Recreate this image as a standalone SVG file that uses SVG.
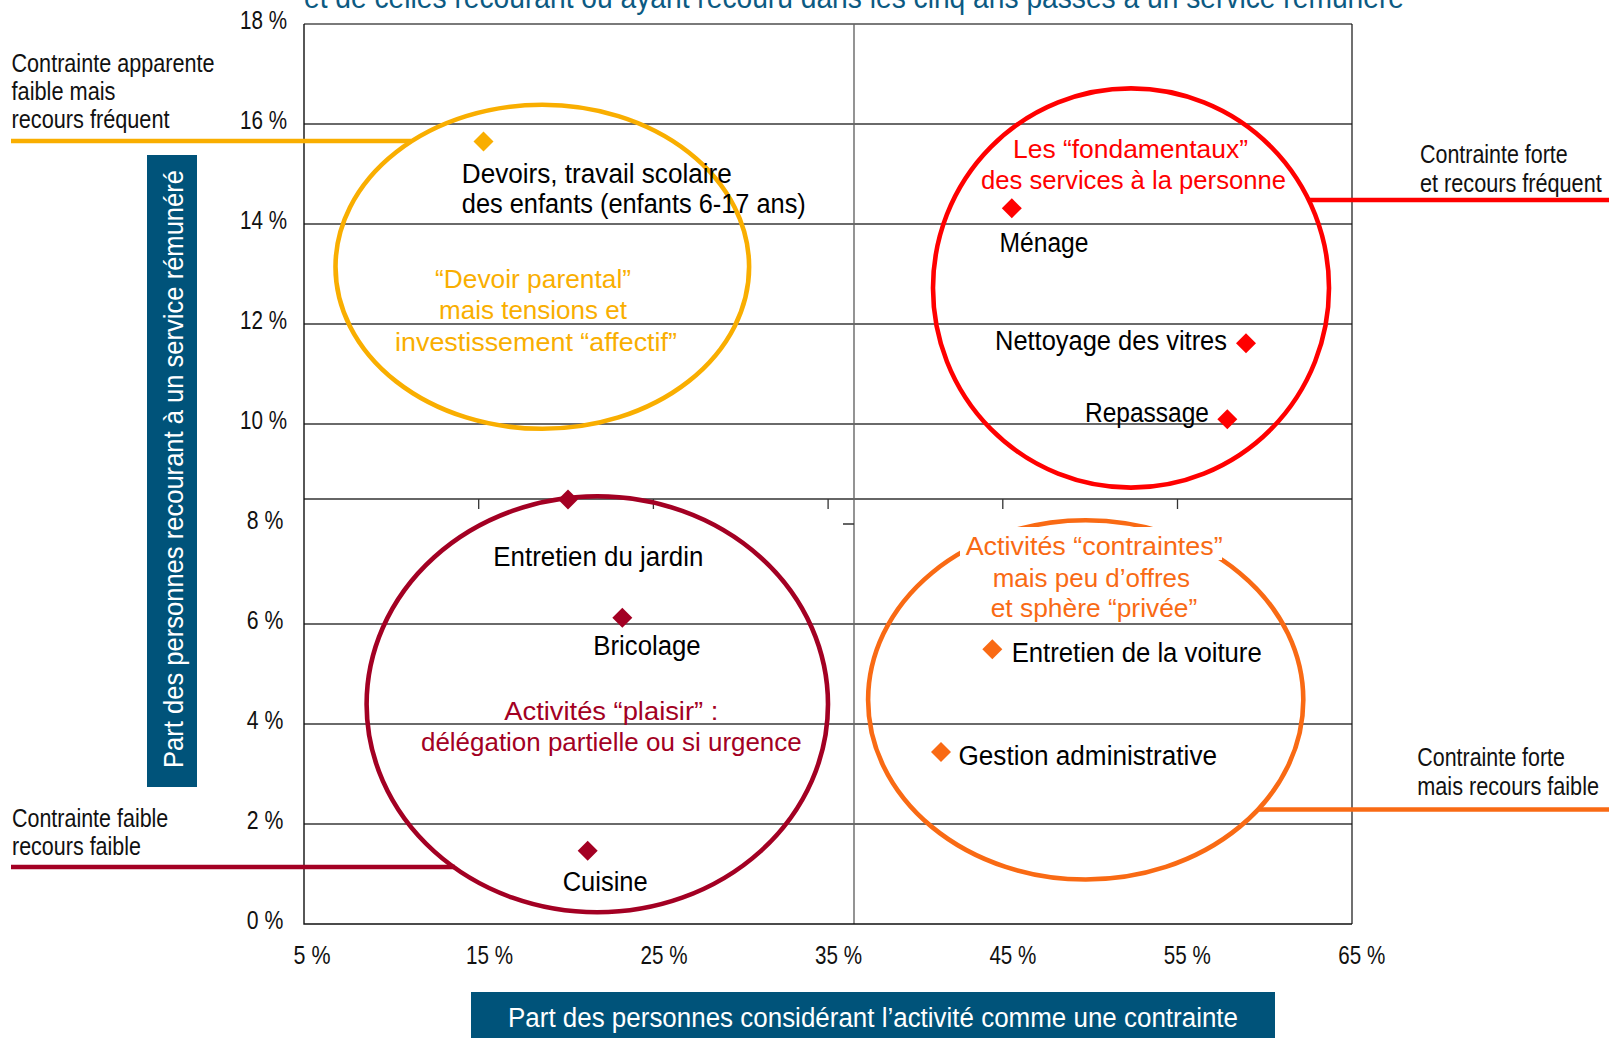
<svg xmlns="http://www.w3.org/2000/svg" width="1609" height="1038" viewBox="0 0 1609 1038">
<style>
text{font-family:"Liberation Sans",Arial,sans-serif;}
.tk{font-size:26px;fill:#111}
.sd{font-size:26px;fill:#111}
.lb{font-size:27px;fill:#000}
.cl{font-size:26px}
.grid{stroke:#3a3a3a;stroke-width:1.3;fill:none}
.ring{fill:none;stroke-width:4.6}
.lead{fill:none;stroke-width:4.6}
.yel{fill:#F9AE00}.yelS{stroke:#F9AE00}
.red{fill:#FF0000}.redS{stroke:#FF0000}
.crm{fill:#A30023}.crmS{stroke:#A30023}
.org{fill:#F96A14}.orgS{stroke:#F96A14}
.box{fill:#00537A}
.wt{fill:#fff}
</style>
<defs>
<path id="dia" d="M0,-10 L10,0 L0,10 L-10,0Z"/>
</defs>
<rect width="1609" height="1038" fill="#fff"/>

<!-- title (cut) -->
<text x="304" y="8" font-size="32" fill="#0C5A82" textLength="1100" lengthAdjust="spacingAndGlyphs">et de celles recourant ou ayant recouru dans les cinq ans passés à un service rémunéré</text>

<!-- grid and axes -->
<g id="grid">
<path class="grid" d="M304,124H1352M304,224H1352M304,324H1352M304,424H1352M304,624H1352M304,724H1352M304,824H1352"/>
<path d="M304,499H1352" stroke="#333" stroke-width="1.3"/>
<path d="M304,24H1352" stroke="#7a7a7a" stroke-width="2.2"/>
<path d="M854,24V924" stroke="#666" stroke-width="1.4"/>
<path d="M1352,24V924" stroke="#111" stroke-width="1.2"/>
<path d="M304,24V924H1352" stroke="#111" stroke-width="1.4" fill="none"/>
<path d="M478.7,499v10M653.4,499v10M828.1,499v10M1002.8,499v10M1177.5,499v10M843,524h11" stroke="#333" stroke-width="1.3"/>
</g>

<!-- axis tick labels -->
<g id="y-ticks" class="tk">
<text x="240" y="29" textLength="47" lengthAdjust="spacingAndGlyphs">18 %</text>
<text x="240" y="129" textLength="47" lengthAdjust="spacingAndGlyphs">16 %</text>
<text x="240" y="229" textLength="47" lengthAdjust="spacingAndGlyphs">14 %</text>
<text x="240" y="329" textLength="47" lengthAdjust="spacingAndGlyphs">12 %</text>
<text x="240" y="429" textLength="47" lengthAdjust="spacingAndGlyphs">10 %</text>
<text x="246.7" y="529" textLength="36.6" lengthAdjust="spacingAndGlyphs">8 %</text>
<text x="246.7" y="629" textLength="36.6" lengthAdjust="spacingAndGlyphs">6 %</text>
<text x="246.7" y="729" textLength="36.6" lengthAdjust="spacingAndGlyphs">4 %</text>
<text x="246.7" y="829" textLength="36.6" lengthAdjust="spacingAndGlyphs">2 %</text>
<text x="246.7" y="929" textLength="36.6" lengthAdjust="spacingAndGlyphs">0 %</text>
</g>
<g id="x-ticks" class="tk">
<text x="293.5" y="963.5" textLength="37" lengthAdjust="spacingAndGlyphs">5 %</text>
<text x="466" y="963.5" textLength="47" lengthAdjust="spacingAndGlyphs">15 %</text>
<text x="640.5" y="963.5" textLength="47" lengthAdjust="spacingAndGlyphs">25 %</text>
<text x="815" y="963.5" textLength="47" lengthAdjust="spacingAndGlyphs">35 %</text>
<text x="989.4" y="963.5" textLength="47" lengthAdjust="spacingAndGlyphs">45 %</text>
<text x="1163.8" y="963.5" textLength="47" lengthAdjust="spacingAndGlyphs">55 %</text>
<text x="1338.3" y="963.5" textLength="47" lengthAdjust="spacingAndGlyphs">65 %</text>
</g>

<!-- axis titles -->
<g id="y-title">
<rect class="box" x="147" y="155" width="50" height="632"/>
<text class="wt" transform="translate(183,768) rotate(-90)" font-size="28" textLength="598" lengthAdjust="spacingAndGlyphs">Part des personnes recourant à un service rémunéré</text>
</g>
<g id="x-title">
<rect class="box" x="471" y="992" width="804" height="46"/>
<text class="wt" x="508" y="1027" font-size="27" textLength="730" lengthAdjust="spacingAndGlyphs">Part des personnes considérant l’activité comme une contrainte</text>
</g>

<!-- connectors (leader lines) -->
<g id="connectors">
<path class="lead yelS" d="M11,141H411"/>
<path class="lead redS" d="M1308,200H1609"/>
<path class="lead crmS" d="M11,867H455"/>
<path class="lead orgS" d="M1258,809.5H1609"/>
</g>

<!-- side labels -->
<g id="label-faible-frequent" class="sd">
<text x="11.5" y="71.7" textLength="203" lengthAdjust="spacingAndGlyphs">Contrainte apparente</text>
<text x="11.5" y="100" textLength="104" lengthAdjust="spacingAndGlyphs">faible mais</text>
<text x="11.5" y="128.3" textLength="158" lengthAdjust="spacingAndGlyphs">recours fréquent</text>
</g>
<g id="label-forte-frequent" class="sd">
<text x="1420" y="163.3" textLength="147.7" lengthAdjust="spacingAndGlyphs">Contrainte forte</text>
<text x="1420" y="191.7" textLength="181.7" lengthAdjust="spacingAndGlyphs">et recours fréquent</text>
</g>
<g id="label-faible-faible" class="sd">
<text x="12" y="826.7" textLength="156.3" lengthAdjust="spacingAndGlyphs">Contrainte faible</text>
<text x="12" y="855" textLength="129" lengthAdjust="spacingAndGlyphs">recours faible</text>
</g>
<g id="label-forte-faible" class="sd">
<text x="1417.3" y="765.7" textLength="147.7" lengthAdjust="spacingAndGlyphs">Contrainte forte</text>
<text x="1417.3" y="795" textLength="181.7" lengthAdjust="spacingAndGlyphs">mais recours faible</text>
</g>

<!-- cluster: devoir parental -->
<g id="cluster-devoir">
<ellipse class="ring yelS" cx="542.3" cy="266.8" rx="206.8" ry="162"/>
<use href="#dia" x="483.5" y="141.6" class="yel"/>
<text class="lb" x="461.8" y="182.7" textLength="270" lengthAdjust="spacingAndGlyphs">Devoirs, travail scolaire</text>
<text class="lb" x="461.8" y="213.3" textLength="344" lengthAdjust="spacingAndGlyphs">des enfants (enfants 6-17 ans)</text>
<text class="cl yel" x="435" y="288" textLength="196" lengthAdjust="spacingAndGlyphs">“Devoir parental”</text>
<text class="cl yel" x="439" y="319" textLength="188" lengthAdjust="spacingAndGlyphs">mais tensions et</text>
<text class="cl yel" x="395" y="350.5" textLength="282" lengthAdjust="spacingAndGlyphs">investissement “affectif”</text>
</g>

<!-- cluster: fondamentaux -->
<g id="cluster-fondamentaux">
<ellipse class="ring redS" cx="1131" cy="288" rx="198" ry="199.6"/>
<text class="cl red" x="1013" y="158" textLength="235" lengthAdjust="spacingAndGlyphs">Les “fondamentaux”</text>
<text class="cl red" x="981" y="188.8" textLength="305" lengthAdjust="spacingAndGlyphs">des services à la personne</text>
<use href="#dia" x="1011.8" y="208.3" class="red"/>
<text class="lb" x="999.5" y="252" textLength="89" lengthAdjust="spacingAndGlyphs">Ménage</text>
<use href="#dia" x="1246" y="343.3" class="red"/>
<text class="lb" x="995" y="350" textLength="232" lengthAdjust="spacingAndGlyphs">Nettoyage des vitres</text>
<use href="#dia" x="1227.3" y="419.3" class="red"/>
<text class="lb" x="1085" y="422" textLength="124" lengthAdjust="spacingAndGlyphs">Repassage</text>
</g>

<!-- cluster: plaisir -->
<g id="cluster-plaisir">
<ellipse class="ring crmS" cx="597.3" cy="704.3" rx="230.7" ry="208" stroke-width="5"/>
<use href="#dia" x="568" y="499.5" class="crm"/>
<text class="lb" x="493.3" y="566" textLength="210" lengthAdjust="spacingAndGlyphs">Entretien du jardin</text>
<use href="#dia" x="622.3" y="617.7" class="crm"/>
<text class="lb" x="593.3" y="655" textLength="107.4" lengthAdjust="spacingAndGlyphs">Bricolage</text>
<text class="cl crm" x="504.3" y="720" textLength="214" lengthAdjust="spacingAndGlyphs">Activités “plaisir” :</text>
<text class="cl crm" x="421" y="750.7" textLength="380.7" lengthAdjust="spacingAndGlyphs">délégation partielle ou si urgence</text>
<use href="#dia" x="587.7" y="850.7" class="crm"/>
<text class="lb" x="562.7" y="890.7" textLength="85" lengthAdjust="spacingAndGlyphs">Cuisine</text>
</g>

<!-- cluster: contraintes -->
<g id="cluster-contraintes">
<ellipse class="ring orgS" cx="1085.7" cy="699.9" rx="217.6" ry="179.6"/>
<rect x="960" y="527" width="262" height="33" fill="#fff"/>
<text class="cl org" x="965.7" y="555" textLength="257" lengthAdjust="spacingAndGlyphs">Activités “contraintes”</text>
<text class="cl org" x="992.7" y="586.7" textLength="197.3" lengthAdjust="spacingAndGlyphs">mais peu d’offres</text>
<text class="cl org" x="990.7" y="617.3" textLength="206.6" lengthAdjust="spacingAndGlyphs">et sphère “privée”</text>
<use href="#dia" x="992.3" y="649.3" class="org"/>
<text class="lb" x="1011.7" y="661.7" textLength="250" lengthAdjust="spacingAndGlyphs">Entretien de la voiture</text>
<use href="#dia" x="941" y="752" class="org"/>
<text class="lb" x="958.5" y="764.5" textLength="258.5" lengthAdjust="spacingAndGlyphs">Gestion administrative</text>
</g>
</svg>
